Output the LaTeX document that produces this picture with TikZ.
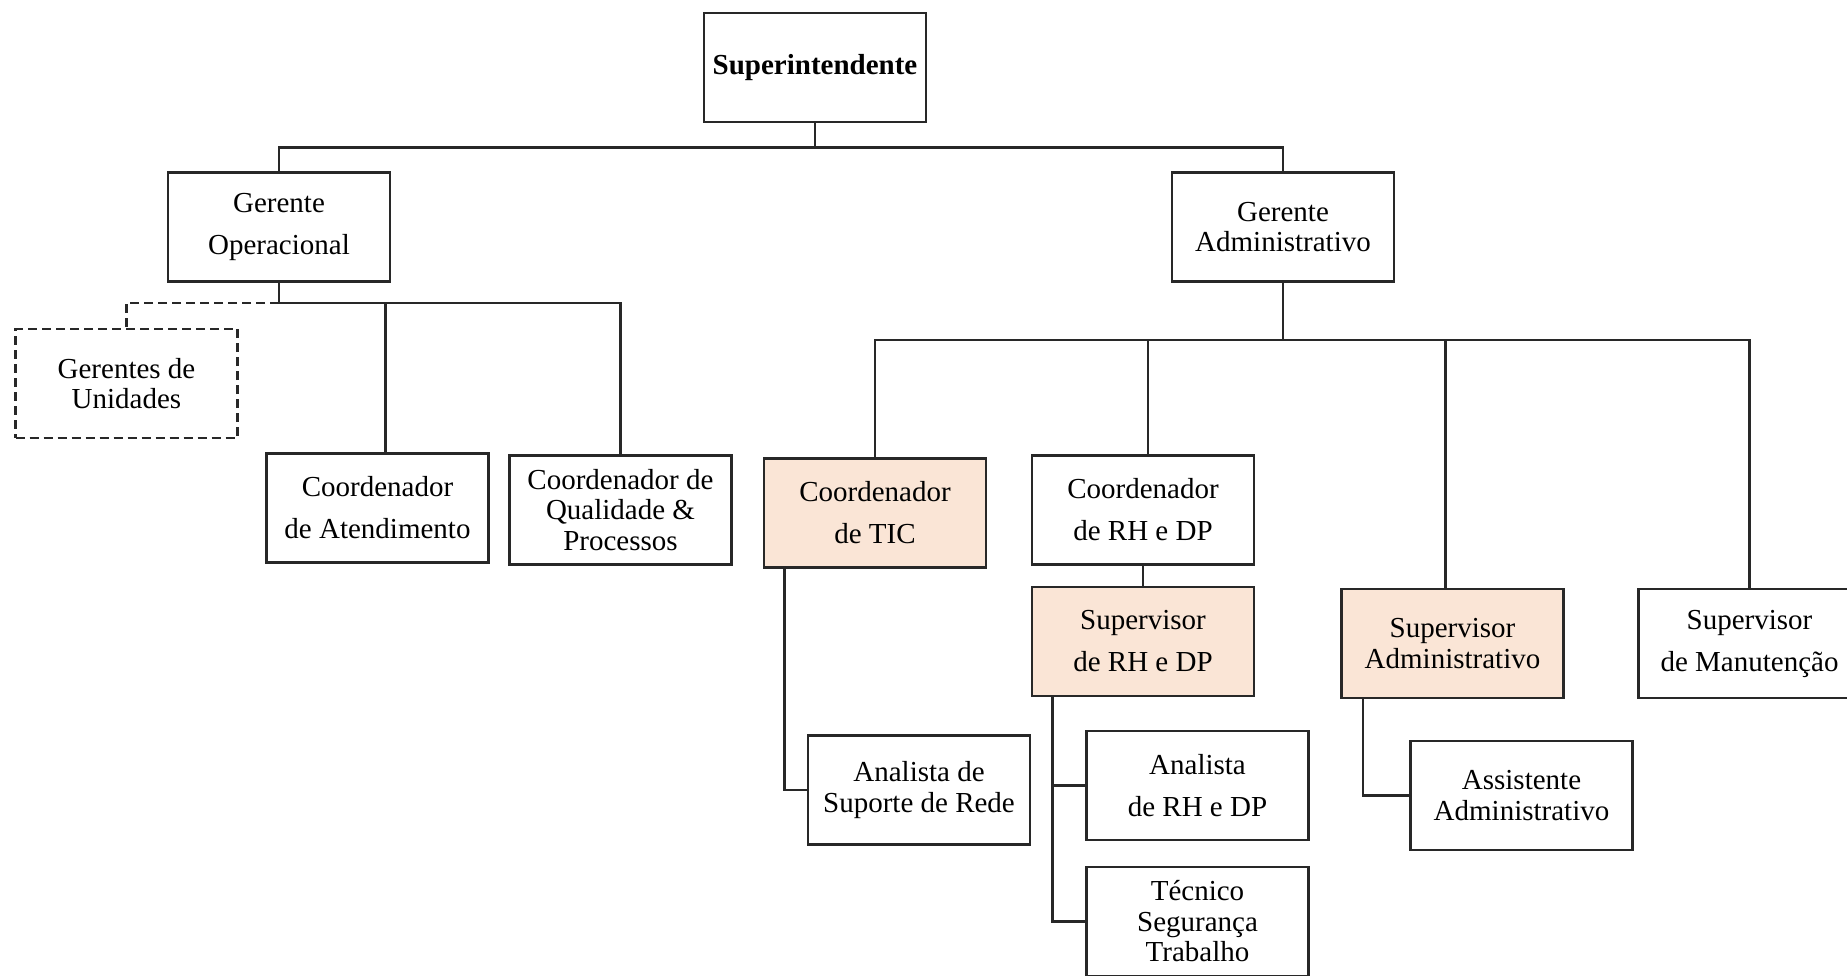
\documentclass[tikz,border=0pt]{standalone}
\usepackage{fontspec}
\setmainfont{Liberation Serif}
\usepackage{tikz}
\definecolor{edge}{RGB}{40,40,40}
\definecolor{tint}{RGB}{250,229,214}

\begin{document}
\begin{tikzpicture}[x=1pt,y=-1pt,
    post/.style={draw=edge,line width=2.6pt,fill=white,align=center,
      minimum width=222pt,minimum height=109pt,inner sep=0pt,
      font=\fontsize{29}{42}\selectfont},
    tight/.style={font=\fontsize{29}{30.5}\selectfont},
    hi/.style={fill=tint},
    temp/.style={dash pattern=on 9pt off 5pt},
    link/.style={draw=edge,line width=2.5pt}]
    \useasboundingbox (0,0) rectangle (1847,976);
    % top
    \node[post] (sup) at (815,67.5) {\textbf{Superintendente}};
    \node[post] (gop) at (279,227) {Gerente\\Operacional};
    \node[post,tight] (gadm) at (1283,227) {Gerente\\Administrativo};
    % operacional
    \node[post,tight,temp] (gun) at (126.5,383.5) {Gerentes de\\Unidades};
    \node[post] (att) at (377.5,508) {Coordenador\\de Atendimento};
    \node[post,tight] (qual) at (620.5,510) {Coordenador de\\Qualidade \&\\Processos};
    % administrativo
    \node[post,hi] (tic) at (875,513) {Coordenador\\de TIC};
    \node[post] (crh) at (1143,510) {Coordenador\\de RH e DP};
    \node[post,hi] (srh) at (1143,641.5) {Supervisor\\de RH e DP};
    \node[post,hi,tight] (sadm) at (1452.5,643.5) {Supervisor\\Administrativo};
    \node[post] (man) at (1749.5,643.5) {Supervisor\\de Manuten\c{c}\~ao};
    \node[post,tight] (rede) at (919,790) {Analista de\\Suporte de Rede};
    \node[post] (arh) at (1197.5,785.5) {Analista\\de RH e DP};
    \node[post,tight] (tec) at (1197.5,921.5) {T\'ecnico\\Seguran\c{c}a\\Trabalho};
    \node[post,tight] (asst) at (1521.5,795.5) {Assistente\\Administrativo};

    \draw[link] (sup.south) -- ++(0,24) coordinate (sj) -| (gop.north);
    \draw[link] (sj) -| (gadm.north);
    \draw[link] (gop.south) -- ++(0,20) coordinate (oj) -| (qual.north);
    \draw[link] (oj) -| ([xshift=8]att.north);
    \draw[link,temp] (oj) -| (gun.north);
    \draw[link] (gadm.south) -- ++(0,57) coordinate (aj) -| (tic.north);
    \draw[link] (aj) -| (man.north);
    \draw[link] (aj) -| ([xshift=5]crh.north);
    \draw[link] (aj) -| ([xshift=-7]sadm.north);
    \draw[link] (crh) -- (srh);
    \draw[link] ([xshift=22]tic.south west) |- (rede.west);
    \draw[link] ([xshift=22]srh.south west) |- (arh.west);
    \draw[link] ([xshift=22]srh.south west) |- (tec.west);
    \draw[link] ([xshift=23]sadm.south west) |- (asst.west);
\end{tikzpicture}
\end{document}
